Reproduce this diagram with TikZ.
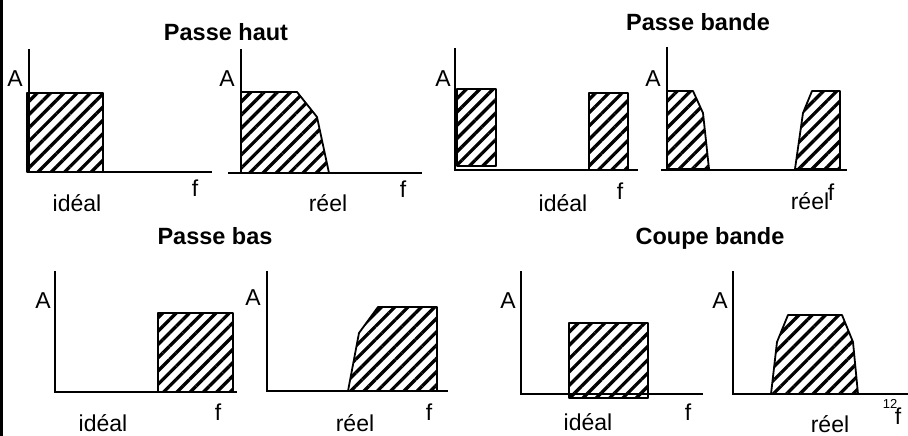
\documentclass[tikz,border=0pt]{standalone}
\usepackage{fontspec}
\setmainfont{Liberation Sans}
\usetikzlibrary{patterns.meta}
\tikzset{
  axis/.style={line width=1.8pt},
  band/.style={line width=1.8pt, line join=round,
    pattern={Lines[angle=45,distance=9.4pt,line width=3.3pt]}},
  lbl/.style={font=\fontsize{23}{26}\selectfont, inner sep=0pt},
  ttl/.style={font=\bfseries\fontsize{23.5}{27}\selectfont, inner sep=0pt},
  pagenum/.style={font=\fontsize{13}{15}\selectfont, inner sep=0pt}
}
\begin{document}
\begin{tikzpicture}[x=1pt,y=-1pt]
\useasboundingbox (0,0) rectangle (908,436);
\fill[white] (0,0) rectangle (908,436);
% left border
\fill (0,0) rectangle (2.5,436);

% ---------- Passe haut ----------
\node[ttl] (t1) at (226,32) {Passe haut};
% ideal
\draw[band] (27,93) rectangle (103,172);
\coordinate (a1t) at (29,49); \coordinate (a1o) at (29,172); \coordinate (a1r) at (212,172);
\draw[axis] (a1t) -- (a1o) -- (a1r);
\node[lbl] (A1) at (15,79) {A};
\node[lbl] (f1) at (195,188) {f};
\node[lbl] (i1) at (77,203) {idéal};
% real
\draw[band] (241,92) -- (297,92) -- (317,117) -- (329,173) -- (241,173) -- cycle;
\coordinate (a2t) at (241,49); \coordinate (a2o) at (241,173);
\coordinate (a2l) at (228,173); \coordinate (a2r) at (422,173);
\draw[axis] (a2t) -- (a2o);
\draw[axis] (a2l) -- (a2r);
\node[lbl] (A2) at (227,79) {A};
\node[lbl] (f2) at (403,189) {f};
\node[lbl] (r2) at (328,203) {réel};

% ---------- Passe bande ----------
\node[ttl] (t2) at (698,22) {Passe bande};
% ideal
\draw[band] (457,89) rectangle (496,166);
\draw[band] (589,93) rectangle (628,170);
\coordinate (a3t) at (455,48); \coordinate (a3o) at (455,170); \coordinate (a3r) at (638,170);
\draw[axis] (a3t) -- (a3o) -- (a3r);
\node[lbl] (A3) at (443,79) {A};
\node[lbl] (f3) at (620,191) {f};
\node[lbl] (i3) at (563,203) {idéal};
% real
\draw[band] (667,91) -- (693,91) -- (703,113) -- (709,169) -- (667,169) -- cycle;
\draw[band] (795,169) -- (803,113) -- (812,91) -- (840,91) -- (840,169) -- cycle;
\coordinate (a4t) at (667,47); \coordinate (a4o) at (667,91);
\coordinate (a4l) at (661,170); \coordinate (a4r) at (847,170);
\draw[axis] (a4t) -- (a4o);
\draw[axis] (a4l) -- (a4r);
\node[lbl] (A4) at (653,79) {A};
\node[lbl] (r4) at (810,201) {réel};
\node[lbl] (f4) at (831,192) {f};

% ---------- Passe bas ----------
\node[ttl] (t3) at (215,236) {Passe bas};
% ideal
\draw[band] (158,313) rectangle (233,392);
\coordinate (a5t) at (55,271); \coordinate (a5o) at (55,392); \coordinate (a5r) at (237,392);
\draw[axis] (a5t) -- (a5o) -- (a5r);
\node[lbl] (A5) at (43,301) {A};
\node[lbl] (f5) at (218,412) {f};
\node[lbl] (i5) at (103,423) {idéal};
% real
\draw[band] (348,391) -- (359,333) -- (378,307) -- (437,307) -- (437,391) -- cycle;
\coordinate (a6t) at (267,271); \coordinate (a6o) at (267,391); \coordinate (a6r) at (448,391);
\draw[axis] (a6t) -- (a6o) -- (a6r);
\node[lbl] (A6) at (253,298) {A};
\node[lbl] (f6) at (429,412) {f};
\node[lbl] (r6) at (355,423) {réel};

% ---------- Coupe bande ----------
\node[ttl] (t4) at (710,238) {Coupe bande};
% ideal
\draw[band] (569,323) rectangle (648,398);
\coordinate (a7t) at (521,271); \coordinate (a7o) at (521,394); \coordinate (a7r) at (703,394);
\draw[axis] (a7t) -- (a7o) -- (a7r);
\node[lbl] (A7) at (508,301) {A};
\node[lbl] (f7) at (688,412) {f};
\node[lbl] (i7) at (588,422) {idéal};
% real
\draw[band] (771,394) -- (777,342) -- (788,315) -- (842,315) -- (853,342) -- (858,394) -- cycle;
\coordinate (a8t) at (733,271); \coordinate (a8o) at (733,394); \coordinate (a8r) at (908,394);
\draw[axis] (a8t) -- (a8o) -- (a8r);
\node[lbl] (A8) at (720,301) {A};
\node[lbl] (r8) at (830,424) {réel};
\node[lbl] (f8) at (898,416) {f};
\node[pagenum] (pg) at (890,404) {12};
\end{tikzpicture}
\end{document}
